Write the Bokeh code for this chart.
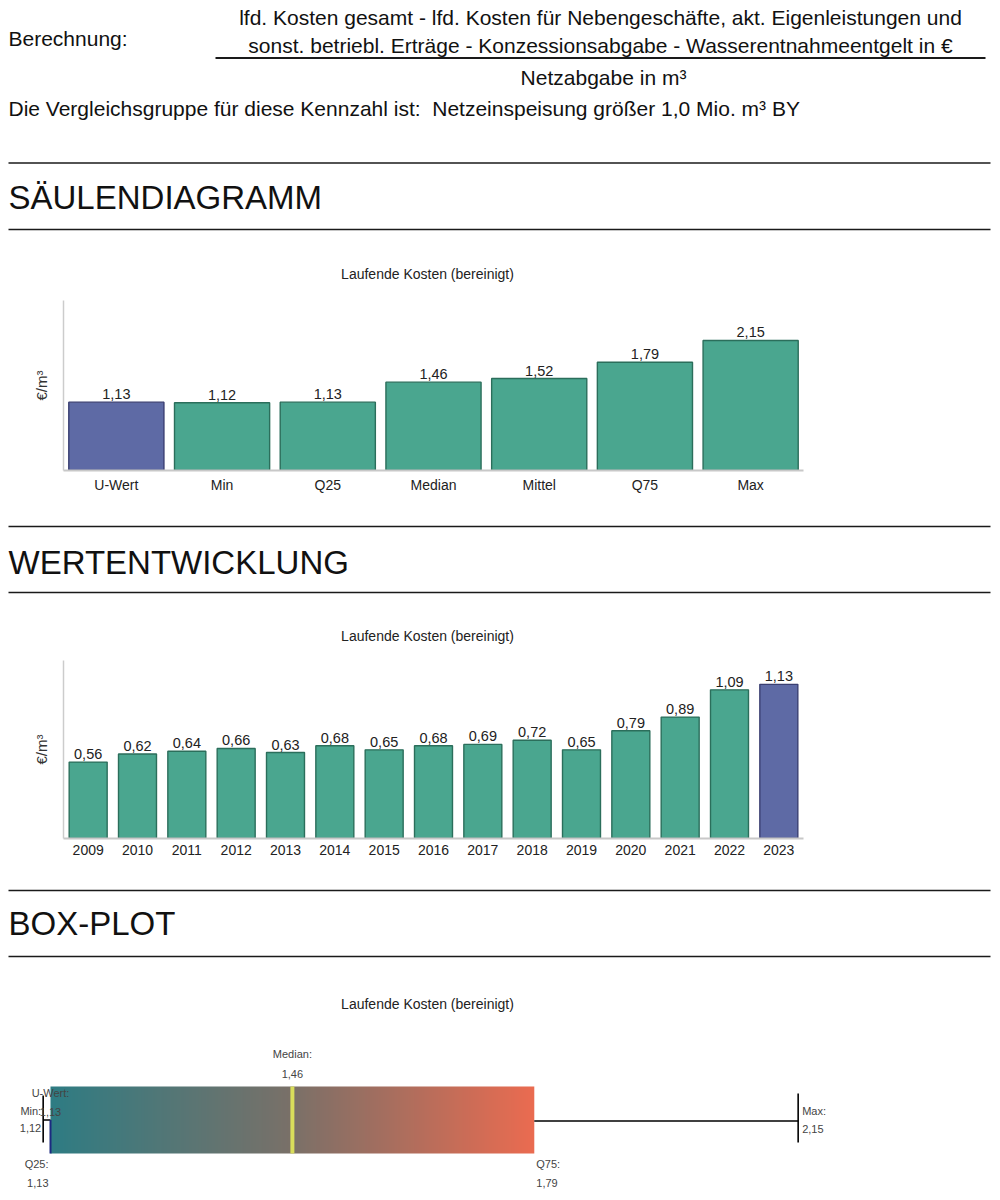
import numpy as np
from bokeh.plotting import figure
from bokeh.models import Range1d, FixedTicker
from bokeh.core.properties import value
from bokeh.embed import file_html
from bokeh.resources import INLINE

# ---------------- data ----------------
categories = ["U-Wert", "Min", "Q25", "Median", "Mittel", "Q75", "Max"]
cat_values = [1.13, 1.12, 1.13, 1.46, 1.52, 1.79, 2.15]

years = ["2009", "2010", "2011", "2012", "2013", "2014", "2015", "2016",
         "2017", "2018", "2019", "2020", "2021", "2022", "2023"]
year_values = [0.56, 0.62, 0.64, 0.66, 0.63, 0.68, 0.65, 0.68,
               0.69, 0.72, 0.65, 0.79, 0.89, 1.09, 1.13]

box_names = ["Min", "Q25", "Median", "Q75", "Max"]
box_values = [1.12, 1.13, 1.46, 1.79, 2.15]
u_wert = 1.13

chart_title = "Laufende Kosten (bereinigt)"
y_label = "€/m³"

# ---------------- style ----------------
FONT = value("Liberation Sans")
GREEN = "#4aa68f"
GREEN_LINE = "#2b6e5b"
NAVY = "#5e6aa5"
NAVY_LINE = "#3a3f72"
W = 992
HDR = "21px"


def fmt(v):
    return f"{v:.2f}".replace(".", ",")


def text_fig(top, bottom):
    p = figure(width=W, height=bottom - top, x_range=Range1d(0, W),
               y_range=Range1d(bottom, top), output_backend="svg",
               toolbar_location=None, x_axis_location=None, y_axis_location=None,
               min_border=0, min_border_left=0, min_border_right=0,
               min_border_top=0, min_border_bottom=0)
    p.grid.visible = False
    p.outline_line_color = None
    p.background_fill_color = "white"
    p.border_fill_color = "white"
    return p


def add_text(p, x, y, t, size, align="left", color="#111111", font=FONT):
    p.text(x=[x], y=[y], text=[t], text_font=font, text_font_size=size,
           text_align=align, text_baseline="middle", text_color=color)


def add_hline(p, y, x0=8, x1=990, width=1.6):
    p.segment(x0=[x0], y0=[y], x1=[x1], y1=[y], line_color="#1a1a1a",
              line_width=width)


# ---------------- header (page y 0..290) ----------------
pA = text_fig(0, 290)
add_text(pA, 8, 38, "Berechnung:", HDR)
add_text(pA, 600, 17, "lfd. Kosten gesamt - lfd. Kosten für Nebengeschäfte, akt. Eigenleistungen und",
         HDR, align="center")
add_text(pA, 600, 45, "sonst. betriebl. Erträge - Konzessionsabgabe - Wasserentnahmeentgelt in €",
         HDR, align="center")
add_hline(pA, 57.5, 215, 985, 1.8)
add_text(pA, 603, 77, "Netzabgabe in m³", HDR, align="center")
add_text(pA, 8, 108, "Die Vergleichsgruppe für diese Kennzahl ist:\u00a0 Netzeinspeisung größer 1,0 Mio. m³ BY",
         HDR)
add_hline(pA, 162.5)
add_text(pA, 8, 197, "SÄULENDIAGRAMM", "33px")
add_hline(pA, 229)
add_text(pA, 427, 273, chart_title, "14px", align="center", color="#222222")


# ---------------- bar chart helper ----------------
def bar_chart(cats, vals, highlight, ymax, height, frame_h, width_frac):
    top_b = 10
    bot_b = height - top_b - frame_h
    p = figure(width=W, height=height, x_range=cats, y_range=Range1d(0, ymax),
               output_backend="svg", toolbar_location=None,
               min_border_left=63, min_border_right=W - 63 - 740,
               min_border_top=top_b, min_border_bottom=bot_b)
    p.grid.visible = False
    p.outline_line_color = None
    fills = [NAVY if c == highlight else GREEN for c in cats]
    lines = [NAVY_LINE if c == highlight else GREEN_LINE for c in cats]
    p.vbar(x=cats, top=vals, width=width_frac, fill_color=fills,
           line_color=lines, line_width=1.4)
    p.text(x=cats, y=vals, text=[fmt(v) for v in vals], text_font=FONT,
           text_font_size="14.5px", text_align="center", text_baseline="bottom",
           y_offset=-3, text_color="#222222")
    p.x_range.range_padding = 0
    xa = p.xaxis[0]
    xa.axis_line_color = "#c8c8c8"
    xa.axis_line_width = 2
    xa.major_tick_line_color = None
    xa.minor_tick_line_color = None
    xa.major_tick_out = 0
    xa.major_label_standoff = 6
    xa.major_label_text_font = "Liberation Sans"
    xa.major_label_text_font_size = "14px"
    xa.major_label_text_color = "#222222"
    ya = p.yaxis[0]
    ya.ticker = FixedTicker(ticks=[])
    ya.axis_line_color = "#cccccc"
    ya.axis_line_width = 1.5
    ya.major_tick_line_color = None
    ya.minor_tick_line_color = None
    ya.major_tick_out = 0
    ya.major_label_standoff = 0
    ya.axis_label = y_label
    ya.axis_label_standoff = 14
    ya.axis_label_text_font = "Liberation Sans"
    ya.axis_label_text_font_size = "15px"
    ya.axis_label_text_font_style = "normal"
    ya.axis_label_text_color = "#333333"
    return p


# chart 1 (page y 290..500, frame 300..470)
pB = bar_chart(categories, cat_values, "U-Wert", 2.81, 210, 170, 0.9)

# section 2 (page y 500..650)
pC = text_fig(500, 650)
add_hline(pC, 526)
add_text(pC, 8, 562, "WERTENTWICKLUNG", "33px")
add_hline(pC, 592)
add_text(pC, 427, 635, chart_title, "14px", align="center", color="#222222")

# chart 2 (page y 650..870, frame 660..838)
pD = bar_chart(years, year_values, years[-1], 1.305, 220, 178, 0.77)

# section 3 (page y 870..1020)
pE = text_fig(870, 1020)
add_hline(pE, 890)
add_text(pE, 8, 923, "BOX-PLOT", "33px")
add_hline(pE, 956)
add_text(pE, 427, 1003, chart_title, "14px", align="center", color="#222222")

# ---------------- box plot (page y 1020..1195) ----------------
bmin, q25, med, q75, bmax = box_values
px_per_unit = 733.0
top_pg, bot_pg = 1020, 1195
pF = figure(width=W, height=bot_pg - top_pg,
            x_range=Range1d(q25 - 50 / px_per_unit, q25 + (W - 50) / px_per_unit),
            y_range=Range1d(bot_pg, top_pg), output_backend="svg",
            toolbar_location=None, x_axis_location=None, y_axis_location=None,
            min_border=0, min_border_left=0, min_border_right=0,
            min_border_top=0, min_border_bottom=0)
pF.grid.visible = False
pF.outline_line_color = None

# gradient box (colour ramp rendered as an image stretched over Q25..Q75)
stops = [(0.0, (46, 124, 131)), (0.5, (122, 112, 104)), (1.0, (235, 107, 80))]


def grad(t):
    for (t0, c0), (t1, c1) in zip(stops[:-1], stops[1:]):
        if t <= t1:
            f = (t - t0) / (t1 - t0)
            return tuple(int(round(a + (b - a) * f)) for a, b in zip(c0, c1))
    return stops[-1][1]


N = 500
img = np.zeros((2, N), dtype=np.uint32)
view = img.view(dtype=np.uint8).reshape((2, N, 4))
for i in range(N):
    r, g, b = grad((i + 0.5) / N)
    view[:, i, 0] = r
    view[:, i, 1] = g
    view[:, i, 2] = b
    view[:, i, 3] = 255
box_top, box_bot, wy = 1086, 1153, 1119.5
pF.image_rgba(image=[img], x=q25, y=box_top, dw=q75 - q25, dh=box_bot - box_top)

# median
pF.segment(x0=[med], y0=[box_top], x1=[med], y1=[box_bot], line_color="#d9dd5b",
           line_width=4)
# whiskers
pF.segment(x0=[bmin, q75], y0=[wy, wy + 1], x1=[q25, bmax], y1=[wy, wy + 1],
           line_color="black", line_width=1.6)
pF.segment(x0=[bmin, bmax], y0=[1095, 1093], x1=[bmin, bmax], y1=[1142, 1142],
           line_color="black", line_width=1.6)
# U-Wert marker
pF.segment(x0=[u_wert], y0=[wy], x1=[u_wert], y1=[box_bot], line_color="#1c2a80",
           line_width=2)

LBL = dict(text_font=FONT, text_font_size="11px", text_color="#444444",
           text_baseline="middle")
pF.text(x=[med, med], y=[1053, 1073], text=[box_names[2] + ":", fmt(med)],
        text_align="center", **LBL)
pF.text(x=[u_wert, u_wert], y=[1092, 1111], text=["U-Wert:", fmt(u_wert)],
        text_align="center", **LBL)
pF.text(x=[bmin, bmin], y=[1110, 1127], text=[box_names[0] + ":", fmt(bmin)],
        text_align="right", x_offset=-2, **LBL)
pF.text(x=[q25, q25], y=[1163, 1182], text=[box_names[1] + ":", fmt(q25)],
        text_align="right", x_offset=-2, **LBL)
pF.text(x=[q75, q75], y=[1163, 1182], text=[box_names[3] + ":", fmt(q75)],
        text_align="left", x_offset=2, **LBL)
pF.text(x=[bmax, bmax], y=[1110, 1128], text=[box_names[4] + ":", fmt(bmax)],
        text_align="left", x_offset=4, **LBL)

open("out.html", "w").write(file_html([pA, pB, pC, pD, pE, pF], INLINE))
